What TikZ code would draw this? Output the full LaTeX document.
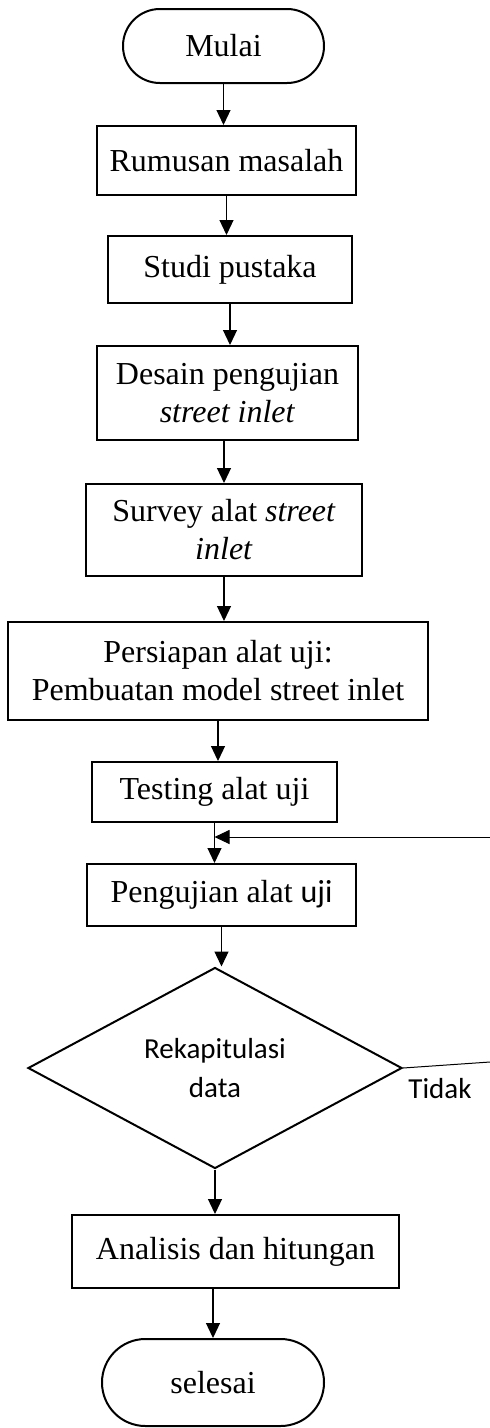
\documentclass[tikz,border=0pt]{standalone}
\usepackage{fontspec}
\setmainfont{Liberation Serif}
\newfontfamily\calibri{Carlito}
\usetikzlibrary{shapes.geometric,arrows.meta}

\begin{document}
\begin{tikzpicture}[x=1pt,y=-1pt,
                        box/.style={draw,line width=2pt,rectangle,align=center,inner sep=0pt,font=\fontsize{32}{38}\selectfont},
                        terminal/.style={box,rounded corners=#1},
                        decision/.style={draw,line width=2pt,diamond,align=center,inner sep=0pt,font=\calibri\fontsize{29}{39}\selectfont},
                        arr/.style={line width=1.2pt,-{Triangle[length=15pt,width=14pt]}}]
                        \useasboundingbox (0,0) rectangle (490,1428);
                        \node[terminal=36.9pt,minimum width=201pt,minimum height=74pt] (mulai) at (223.5,46) {Mulai};
                        \node[box,minimum width=259pt,minimum height=69pt] (rumusan) at (226.5,160.5) {Rumusan masalah};
                        \node[box,minimum width=244pt,minimum height=67pt] (studi) at (230,269.5) {Studi pustaka};
                        \node[box,minimum width=261pt,minimum height=94pt] (desain) at (227.5,393) {Desain pengujian\\\textit{street inlet}};
                        \node[box,minimum width=276pt,minimum height=92pt] (survey) at (224,530) {Survey alat \textit{street}\\\textit{inlet}};
                        \node[box,minimum width=420pt,minimum height=98pt] (persiapan) at (218,671) {Persiapan alat uji:\\Pembuatan model street inlet};
                        \node[box,minimum width=245pt,minimum height=60pt] (testing) at (214.5,792) {Testing alat uji};
                        \node[box,minimum width=269pt,minimum height=62pt] (pengujian) at (221.5,895) {Pengujian alat {\calibri uji}};
                        \node[decision,minimum width=374pt,minimum height=191pt] (rekap) at (215,1068) {Rekapitulasi\\data};
                        \node[font=\calibri\fontsize{29}{35}\selectfont] (tidak) at (440,1089) {Tidak};
                        \node[box,minimum width=327pt,minimum height=73pt] (analisis) at (235.5,1251.5) {Analisis dan hitungan};
                        \node[terminal=43.4pt,minimum width=222pt,minimum height=87pt] (selesai) at (213,1382.5) {selesai};
                        \draw[arr] (mulai.south) -- (mulai.south |- rumusan.north);
                        \draw[arr] (rumusan.south) -- (rumusan.south |- studi.north);
                        \draw[arr] (studi.south) -- (studi.south |- desain.north);
                        \draw[arr] (desain.south -| survey.north) -- (survey.north);
                        \draw[arr] (survey.south) -- (survey.south |- persiapan.north);
                        \draw[arr] (persiapan.south) -- (persiapan.south |- testing.north);
                        \draw[arr] (testing.south) -- (testing.south |- pengujian.north);
                        \draw[arr] (pengujian.south) -- (pengujian.south |- rekap.north);
                        \draw[arr] (rekap.south) -- (rekap.south |- analisis.north);
                        \draw[arr] (analisis.south -| selesai.north) -- (selesai.north);
                        \coordinate (balik) at (490,837);
                        \draw[arr,line width=1pt] (balik) -- (balik -| testing.south);
                        \coordinate (tidakujung) at (490,1062);
                        \draw[line width=1pt] (rekap.east) -- (tidakujung);
                \end{tikzpicture}
\end{document}
